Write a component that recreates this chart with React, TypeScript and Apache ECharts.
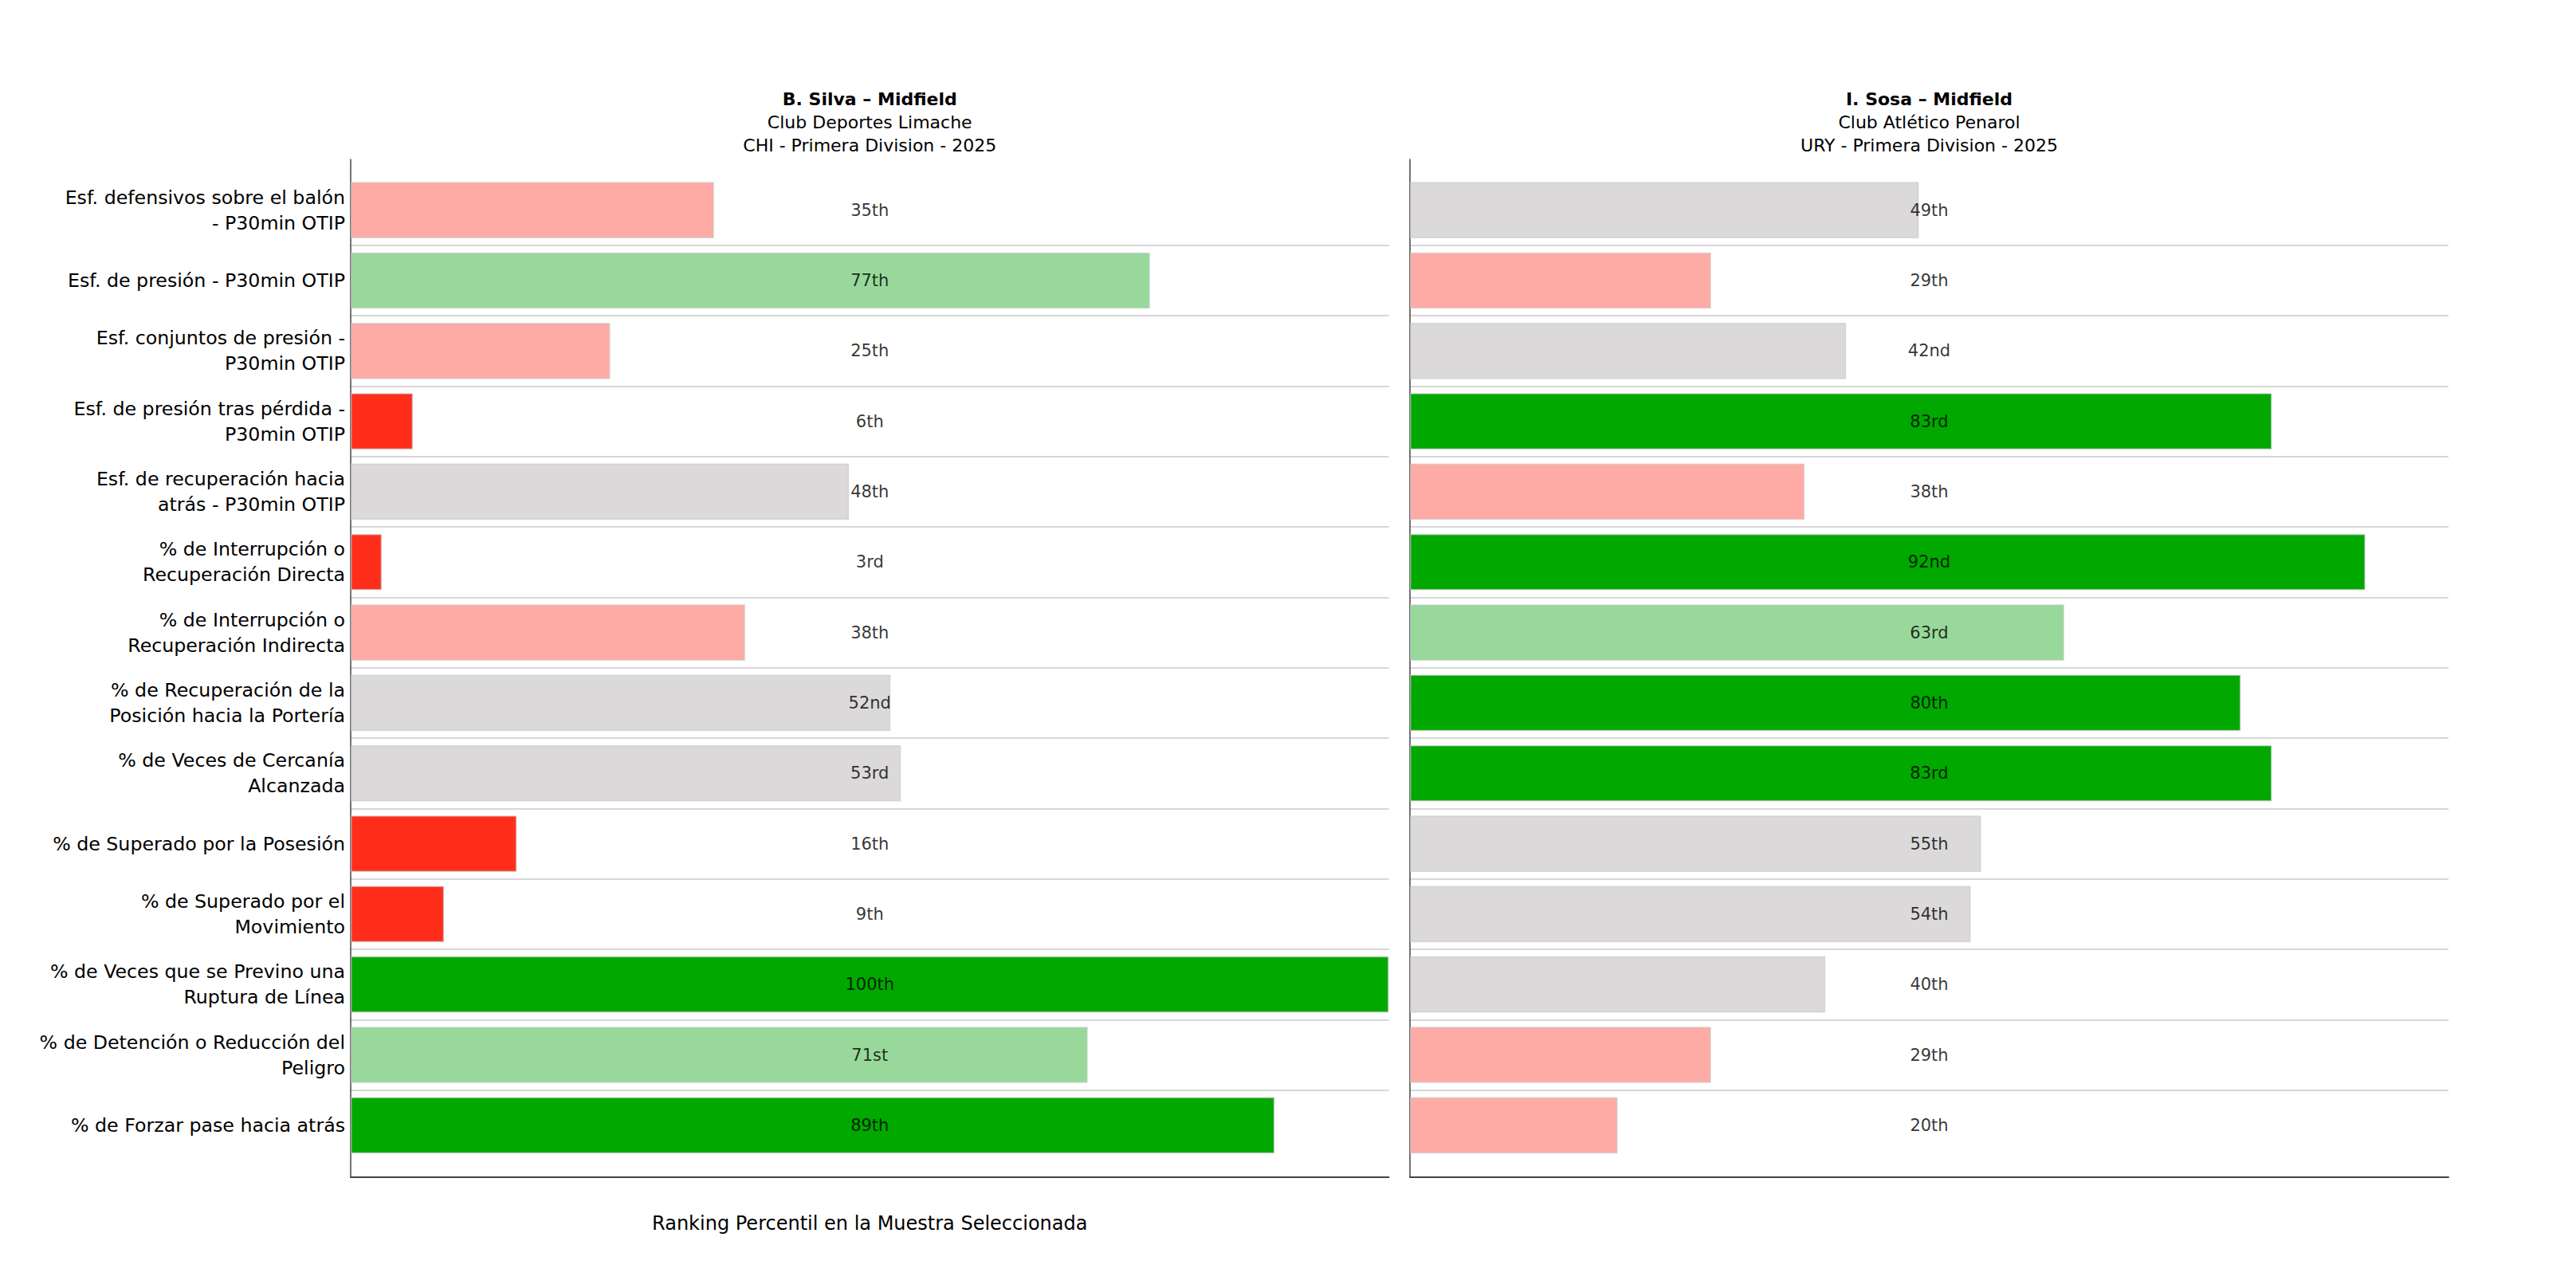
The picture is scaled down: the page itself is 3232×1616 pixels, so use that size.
import React, { useEffect, useRef } from "react";
import * as echarts from "echarts";

const categories = [
  "Esf. defensivos sobre el balón\n- P30min OTIP",
  "Esf. de presión - P30min OTIP",
  "Esf. conjuntos de presión -\nP30min OTIP",
  "Esf. de presión tras pérdida -\nP30min OTIP",
  "Esf. de recuperación hacia\natrás - P30min OTIP",
  "% de Interrupción o\nRecuperación Directa",
  "% de Interrupción o\nRecuperación Indirecta",
  "% de Recuperación de la\nPosición hacia la Portería",
  "% de Veces de Cercanía\nAlcanzada",
  "% de Superado por la Posesión",
  "% de Superado por el\nMovimiento",
  "% de Veces que se Previno una\nRuptura de Línea",
  "% de Detención o Reducción del\nPeligro",
  "% de Forzar pase hacia atrás",
];

const silvaValues = [35, 77, 25, 6, 48, 3, 38, 52, 53, 16, 9, 100, 71, 89];
const sosaValues = [49, 29, 42, 83, 38, 92, 63, 80, 83, 55, 54, 40, 29, 20];

const panelTitles = ["B. Silva – Midfield", "I. Sosa – Midfield"];
const panelSubtitles = [
  "Club Deportes Limache\nCHI - Primera Division - 2025",
  "Club Atlético Penarol\nURY - Primera Division - 2025",
];
const xAxisTitle = "Ranking Percentil en la Muestra Seleccionada";

const FONT = "DejaVu Sans";

const PANELS = [
  { left: 440, width: 1302.5 },
  { left: 1769, width: 1303 },
];
const DATA_TOP = 219.5;
const DATA_H = 1236.5;
const FRAME_TOP = 200;
const FRAME_H = 1277;

function colorFor(v: number): string {
  if (v < 20) return "#FF2E1B";
  if (v < 40) return "#FFABA5";
  if (v < 60) return "#DBD9DA";
  if (v < 80) return "#98D99B";
  return "#00A800";
}

function ordinal(n: number): string {
  const m100 = n % 100;
  if (m100 >= 11 && m100 <= 13) return n + "th";
  const m10 = n % 10;
  if (m10 === 1) return n + "st";
  if (m10 === 2) return n + "nd";
  if (m10 === 3) return n + "rd";
  return n + "th";
}

export default function App() {
  const ref = useRef<HTMLDivElement>(null);

  useEffect(() => {
    if (!ref.current) return;
    const chart = echarts.init(ref.current, undefined, { renderer: "svg" });
    const allValues = [silvaValues, sosaValues];

    const grid: any[] = [];
    const xAxis: any[] = [];
    const yAxis: any[] = [];
    const series: any[] = [];
    const title: any[] = [];

    PANELS.forEach((p) => {
      grid.push({
        left: p.left,
        top: DATA_TOP,
        width: p.width,
        height: DATA_H,
        outerBoundsMode: "none",
        containLabel: false,
      });
    });
    PANELS.forEach((p) => {
      grid.push({
        left: p.left,
        top: FRAME_TOP,
        width: p.width,
        height: FRAME_H,
        outerBoundsMode: "none",
        containLabel: false,
      });
    });

    // data axes
    PANELS.forEach((p, i) => {
      xAxis.push({
        type: "value",
        gridIndex: i,
        min: 0,
        max: 100,
        axisLine: { show: false },
        axisTick: { show: false },
        axisLabel: { show: false },
        splitLine: { show: false },
      });
      yAxis.push({
        type: "category",
        gridIndex: i,
        data: categories,
        inverse: true,
        axisLine: { show: false },
        axisTick: { show: false },
        axisLabel: {
          show: i === 0,
          interval: 0,
          margin: 7,
          fontSize: 23.7,
          lineHeight: 32,
          color: "#000",
          fontFamily: FONT,
          align: "right",
        },
        splitLine: {
          show: true,
          showMinLine: false,
          showMaxLine: false,
          lineStyle: { color: "#D8D6D9", width: 2 },
        },
      });
    });
    // frame axes
    PANELS.forEach((p, i) => {
      xAxis.push({
        type: "value",
        gridIndex: 2 + i,
        min: 0,
        max: 100,
        axisLine: { show: true, onZero: false, lineStyle: { color: "#444", width: 2 } },
        axisTick: { show: false },
        axisLabel: { show: false },
        splitLine: { show: false },
        name: i === 0 ? xAxisTitle : "",
        nameLocation: "middle",
        nameGap: 44,
        nameTextStyle: { fontSize: 24, lineHeight: 28, color: "#000", fontFamily: FONT },
      });
      yAxis.push({
        type: "value",
        gridIndex: 2 + i,
        min: 0,
        max: 1,
        axisLine: { show: true, onZero: false, lineStyle: { color: "#444", width: 1.5 } },
        axisTick: { show: false },
        axisLabel: { show: false },
        splitLine: { show: false },
      });
    });

    PANELS.forEach((p, i) => {
      const vals = allValues[i];
      series.push({
        type: "bar",
        xAxisIndex: i,
        yAxisIndex: i,
        barWidth: "80%",
        silent: true,
        data: vals.map((v) => ({
          value: v,
          itemStyle: {
            color: colorFor(v),
            borderColor: "rgba(200,200,200,0.6)",
            borderWidth: 1.5,
          },
        })),
        z: 2,
      });
      series.push({
        type: "scatter",
        xAxisIndex: i,
        yAxisIndex: i,
        symbolSize: 1,
        silent: true,
        itemStyle: { color: "rgba(0,0,0,0)" },
        label: {
          show: true,
          position: "inside",
          formatter: "{b}",
          fontSize: 21,
          color: "#000",
          fontFamily: FONT,
        },
        data: vals.map((v, k) => ({ name: ordinal(v), value: [50, k] })),
        z: 5,
      });
      title.push({
        text: panelTitles[i],
        subtext: panelSubtitles[i],
        left: p.left + p.width / 2 - 5,
        top: 104.5,
        textAlign: "center",
        itemGap: 0,
        textStyle: {
          fontSize: 22,
          fontWeight: "bold",
          lineHeight: 29,
          color: "#000",
          fontFamily: FONT,
        },
        subtextStyle: {
          fontSize: 22,
          lineHeight: 29,
          color: "#000",
          fontFamily: FONT,
        },
      });
    });

    chart.setOption({
      animation: false,
      backgroundColor: "#ffffff",
      textStyle: { fontFamily: FONT },
      title,
      grid,
      xAxis,
      yAxis,
      series,
    });

    return () => chart.dispose();
  }, []);

  return (
    <div
      ref={ref}
      style={{ position: "fixed", left: 0, top: 0, width: 3232, height: 1616, background: "#fff" }}
    />
  );
}
